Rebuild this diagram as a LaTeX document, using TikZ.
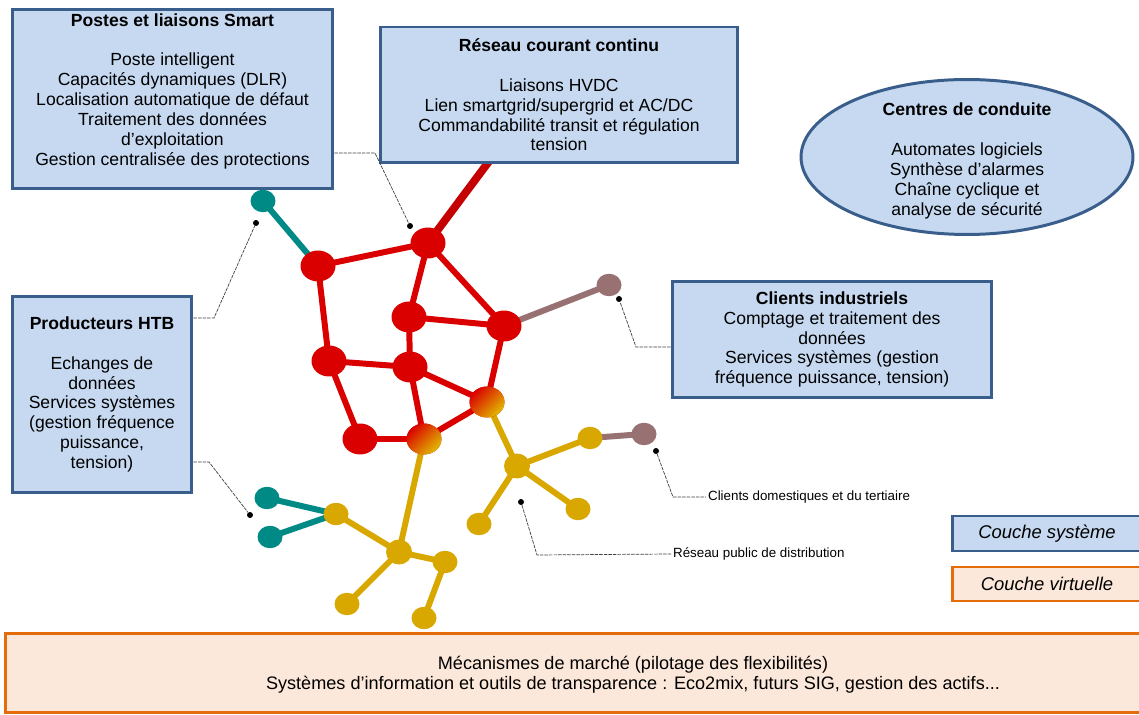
\documentclass[tikz,border=0pt]{standalone}
\usepackage{fontspec}
\setmainfont{Liberation Sans}
\usetikzlibrary{shapes.geometric,backgrounds}

\definecolor{bloccoblu}{RGB}{198,217,241}
\definecolor{bordoblu}{RGB}{58,94,140}
\definecolor{bloccoarancio}{RGB}{252,232,218}
\definecolor{bordoarancio}{RGB}{228,108,10}
\definecolor{rosso}{RGB}{218,0,0}
\definecolor{rossocc}{RGB}{196,0,0}
\definecolor{giallo}{RGB}{217,168,0}
\definecolor{verdeacqua}{RGB}{0,138,134}
\definecolor{malva}{RGB}{152,114,114}

\begin{document}
\begin{tikzpicture}[x=0.02cm, y=-0.02cm,
    font=\fontsize{10}{11.3}\selectfont,
    blocco/.style={draw=bordoblu, fill=bloccoblu, line width=1.7pt, align=center, inner sep=2pt},
    virtuale/.style={draw=bordoarancio, fill=bloccoarancio, line width=1.7pt, align=center, inner sep=2pt},
    testo/.style={align=center, inner sep=0pt},
    grande/.style={ellipse, inner sep=0pt, minimum width=0.7cm, minimum height=0.62cm, fill=rosso},
    piccolo/.style={ellipse, inner sep=0pt, minimum width=0.5cm, minimum height=0.45cm},
    sfumato/.style={grande, top color=rosso, bottom color=giallo!80!yellow, shading angle=45},
    punto/.style={circle, fill=black, inner sep=0pt, minimum size=0.12cm},
    richiamo/.style={draw=black!75, line width=0.4pt, dash pattern=on 2pt off 0.6pt},
    etichetta/.style={font=\fontsize{7.6}{9}\selectfont, inner sep=1pt},
    ramo/.style={line width=3.4pt}]

    \useasboundingbox (0,0) rectangle (1139,715);

    % Riquadri della couche système
    \node[blocco, minimum width=6.42cm, minimum height=3.56cm] (postes) at (172.5,99)
        {\textbf{Postes et liaisons Smart}\\[11.3pt]
         Poste intelligent\\ Capacités dynamiques (DLR)\\ Localisation automatique de défaut\\
         Traitement des données\\ d’exploitation\\ Gestion centralisée des protections\rule[-11pt]{0pt}{1pt}};
    \node[blocco, minimum width=7.16cm, minimum height=2.72cm] (reseau) at (559,95)
        {\textbf{Réseau courant continu}\\[11.3pt]
         Liaisons HVDC\\ Lien smartgrid/supergrid et AC/DC\\ Commandabilité transit et régulation\\ tension};
    \node[blocco, ellipse, minimum width=6.64cm, minimum height=3.1cm] (centres) at (967,157) {};
    \node[testo] (centrestesto) at (967,161)
        {\textbf{Centres de conduite}\\[11.3pt]
         Automates logiciels\\ Synthèse d’alarmes\\ Chaîne cyclique et\\ analyse de sécurité};
    \node[blocco, minimum width=3.6cm, minimum height=3.94cm] (producteurs) at (102,394.5)
        {\textbf{Producteurs HTB}\\[11.3pt]
         Echanges de\\ données\\ Services systèmes\\ (gestion fréquence\\ puissance,\\ tension)};
    \node[blocco, minimum width=6.4cm, minimum height=2.34cm] (clients) at (832,339.5)
        {\textbf{Clients industriels}\\
         Comptage et traitement des\\ données\\ Services systèmes (gestion\\ fréquence puissance, tension)};

    % Legenda
    \node[blocco, minimum width=3.8cm, minimum height=0.7cm, font=\fontsize{10.5}{12}\selectfont\itshape] (systeme) at (1047,533.5) {Couche système};
    \node[virtuale, minimum width=3.8cm, minimum height=0.68cm, font=\fontsize{10.5}{12}\selectfont\itshape] (virtuelle) at (1047,584) {Couche virtuelle};

    % Couche virtuelle in basso
    \node[virtuale, minimum width=22.8cm, minimum height=1.6cm] (marche) at (575,673) {};
    \node[testo, font=\fontsize{10.3}{11.3}\selectfont] (marchetesto) at (633,675)
        {Mécanismes de marché (pilotage des flexibilités)\\
         Systèmes d’information et outils de transparence : Eco2mix, futurs SIG, gestion des actifs...};

    % Nodi della rete
    \node[grande] (R1) at (428,243) {};
    \node[grande] (R2) at (318,266) {};
    \node[grande] (R3) at (409,317) {};
    \node[grande] (R4) at (504,326) {};
    \node[grande] (R5) at (329,361) {};
    \node[grande] (R6) at (410,367) {};
    \node[sfumato] (R7) at (487,402) {};
    \node[grande] (R8) at (360,439) {};
    \node[sfumato] (R9) at (424,439) {};
    \node[piccolo, fill=verdeacqua] (T1) at (263,201) {};
    \node[piccolo, fill=malva] (B1) at (609,285) {};
    \node[piccolo, fill=giallo] (Y1) at (590,438) {};
    \node[piccolo, fill=malva] (B2) at (644,434) {};
    \node[piccolo, fill=giallo, minimum width=0.52cm, minimum height=0.5cm] (Y2) at (517,466) {};
    \node[piccolo, fill=giallo] (Y3) at (479,524) {};
    \node[piccolo, fill=giallo] (Y4) at (578,509) {};
    \node[piccolo, fill=giallo] (Y5) at (336,514) {};
    \node[piccolo, fill=verdeacqua] (T2) at (267,498) {};
    \node[piccolo, fill=verdeacqua] (T3) at (270,537) {};
    \node[piccolo, fill=giallo, minimum width=0.52cm, minimum height=0.5cm] (Y6) at (399,552) {};
    \node[piccolo, fill=giallo] (Y7) at (445,562) {};
    \node[piccolo, fill=giallo] (Y8) at (347,604) {};
    \node[piccolo, fill=giallo] (Y9) at (424,618) {};
    \coordinate (cc) at (490,160);

    % Collegamenti (sotto i nodi)
    \begin{pgfonlayer}{background}
        \draw[ramo, rossocc, line width=4.5pt] (R1.center) -- (cc);
        \draw[ramo, rosso] (R1.center) -- (R2.center);
        \draw[ramo, rosso] (R1.center) -- (R3.center);
        \draw[ramo, rosso] (R1.center) -- (R4.center);
        \draw[ramo, rosso] (R2.center) -- (R5.center);
        \draw[ramo, rosso] (R3.center) -- (R4.center);
        \draw[ramo, rosso] (R3.center) -- (R6.center);
        \draw[ramo, rosso] (R4.center) -- (R7.center);
        \draw[ramo, rosso] (R5.center) -- (R6.center);
        \draw[ramo, rosso] (R5.center) -- (R8.center);
        \draw[ramo, rosso] (R6.center) -- (R7.center);
        \draw[ramo, rosso] (R6.center) -- (R9.center);
        \draw[ramo, rosso] (R8.center) -- (R9.center);
        \draw[ramo, rosso] (R9.center) -- (R7.center);
        \draw[ramo, verdeacqua] (R2.center) -- (T1.center);
        \draw[ramo, malva] (R4.center) -- (B1.center);
        \draw[ramo, giallo] (R7.center) -- (Y2.center);
        \draw[ramo, giallo] (R9.center) -- (Y6.center);
        \draw[ramo, giallo] (Y2.center) -- (Y1.center);
        \draw[ramo, malva] (Y1.center) -- (B2.center);
        \draw[ramo, giallo] (Y2.center) -- (Y3.center);
        \draw[ramo, giallo] (Y2.center) -- (Y4.center);
        \draw[ramo, giallo] (Y5.center) -- (Y6.center);
        \draw[ramo, giallo] (Y6.center) -- (Y7.center);
        \draw[ramo, giallo] (Y6.center) -- (Y8.center);
        \draw[ramo, giallo] (Y7.center) -- (Y9.center);
        \draw[ramo, verdeacqua] (Y5.center) -- (T2.center);
        \draw[ramo, verdeacqua] (Y5.center) -- (T3.center);
    \end{pgfonlayer}

    % Punti di richiamo
    \node[punto] (p1) at (410,226) {};
    \node[punto] (p2) at (256,223) {};
    \node[punto] (p3) at (250,515) {};
    \node[punto] (p4) at (619,299) {};
    \node[punto] (p5) at (656,451) {};
    \node[punto] (p6) at (521,502) {};

    % Etichette esterne
    \node[etichetta, anchor=west] (domestiques) at (706,497) {Clients domestiques et du tertiaire};
    \node[etichetta, anchor=west] (distribution) at (671,554) {Réseau public de distribution};

    % Linee di richiamo
    \draw[richiamo] (postes.east |- 0,153) -- (375,153) -- (p1);
    \draw[richiamo] (producteurs.east |- 0,318) -- (214,318) -- (p2);
    \draw[richiamo] (producteurs.east |- 0,462) -- (209,462) -- (p3);
    \draw[richiamo] (clients.west |- 0,347) -- (636,347) -- (p4);
    \draw[richiamo] (p5) -- (673,497) -- (domestiques.west);
    \draw[richiamo] (p6) -- (537,555) -- (distribution.west);

\end{tikzpicture}
\end{document}
